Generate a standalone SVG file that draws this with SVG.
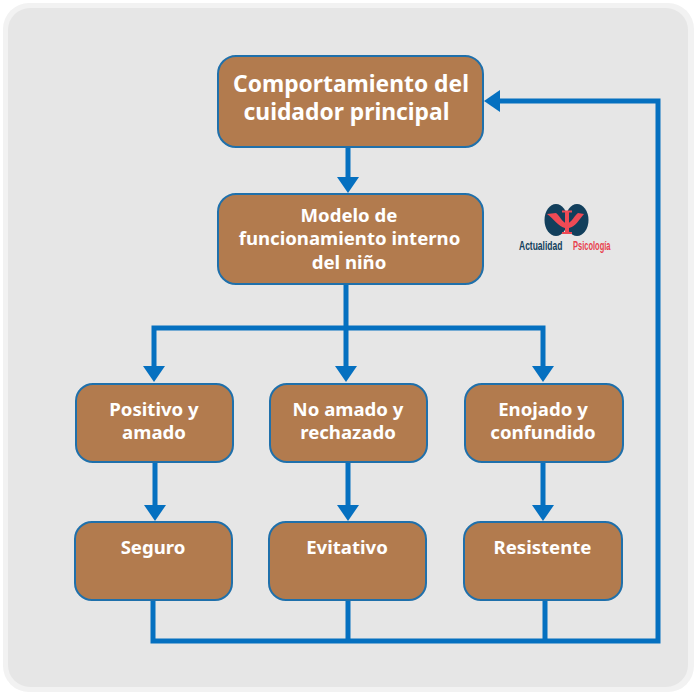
<svg xmlns="http://www.w3.org/2000/svg" width="696" height="696" viewBox="0 0 696 696">
<style>
.n{fill:#b27b4e;stroke:#1f70ab;stroke-width:2}
.t{font-family:"Noto Sans","Open Sans","Liberation Sans",sans-serif;font-weight:700;fill:#fff;text-anchor:middle}
.f{font-size:18.6px}
.h{font-size:22.8px}
.c{fill:none;stroke:#0570c0;stroke-width:5}
.l{font-family:"Liberation Sans",sans-serif;font-weight:700;font-size:12.5px}
</style>
<defs><marker id="a" markerUnits="userSpaceOnUse" markerWidth="16" markerHeight="22" refX="6" refY="11" orient="auto" viewBox="0 0 16 22"><path d="M0 0L16 11L0 22Z" fill="#0570c0"/></marker></defs>
<rect width="696" height="696" fill="#fff"/>
<rect x="3" y="3" width="691" height="689" rx="26" fill="#f2f2f2"/>
<rect x="8" y="8" width="680" height="679" rx="22" fill="#e6e6e6"/>
<g id="connectors">
<path class="c" d="M348 147V183" marker-end="url(#a)"/>
<path class="c" d="M346 284V372" marker-end="url(#a)"/>
<path class="c" d="M346 328H154V372" marker-end="url(#a)"/>
<path class="c" d="M346 328H543V372" marker-end="url(#a)"/>
<path class="c" d="M155 462V511" marker-end="url(#a)"/>
<path class="c" d="M348 462V511" marker-end="url(#a)"/>
<path class="c" d="M543 462V511" marker-end="url(#a)"/>
<path class="c" d="M153 600V641H658V101H494" marker-end="url(#a)"/>
<path class="c" d="M348 600V641M545 600V641"/>
</g>
<g id="n1"><rect class="n" x="218" y="56" width="265" height="91" rx="18"/><text class="t h" x="351" y="92">Comportamiento del</text><text class="t h" x="346.500" y="120">cuidador principal</text></g>
<g id="n2"><rect class="n" x="218" y="194" width="265" height="90" rx="18"/><text class="t f" x="349" y="222">Modelo de</text><text class="t f" x="349.500" y="245">funcionamiento interno</text><text class="t f" x="349" y="269">del niño</text></g>
<g id="n3"><rect class="n" x="76" y="384" width="157" height="78" rx="17"/><text class="t f" x="154" y="416">Positivo y</text><text class="t f" x="154" y="439">amado</text></g>
<g id="n4"><rect class="n" x="270" y="384" width="157" height="78" rx="17"/><text class="t f" x="348" y="416">No amado y</text><text class="t f" x="348" y="439">rechazado</text></g>
<g id="n5"><rect class="n" x="465" y="384" width="158" height="78" rx="17"/><text class="t f" x="543" y="416">Enojado y</text><text class="t f" x="543" y="439">confundido</text></g>
<g id="n6"><rect class="n" x="75" y="522" width="157" height="78" rx="17"/><text class="t f" x="153" y="554">Seguro</text></g>
<g id="n7"><rect class="n" x="269" y="522" width="157" height="78" rx="17"/><text class="t f" x="347" y="554">Evitativo</text></g>
<g id="n8"><rect class="n" x="464" y="522" width="158" height="78" rx="17"/><text class="t f" x="542.500" y="554">Resistente</text></g>
<g id="logo">
<ellipse cx="556" cy="220" rx="11.500" ry="16" fill="#123f5c"/><ellipse cx="577" cy="220" rx="11.500" ry="16" fill="#123f5c"/>
<path d="M547 214L556 213C560 216 562 222 567 224C572 222 574 216 578 213L584 214C579 220 575 227 569 228H565C559 227 553 218 547 214Z" fill="#ee4a55"/>
<path d="M562 210.500H572V212.500H569V232H572V234H562V232H565V212.500H562Z" fill="#ee4a55"/>
<text class="l" transform="translate(519 250) scale(.68 1)" fill="#123f5c">Actualidad</text>
<text class="l" transform="translate(573 250) scale(.6 1)" fill="#e8404c">Psicología</text>
</g>
</svg>
